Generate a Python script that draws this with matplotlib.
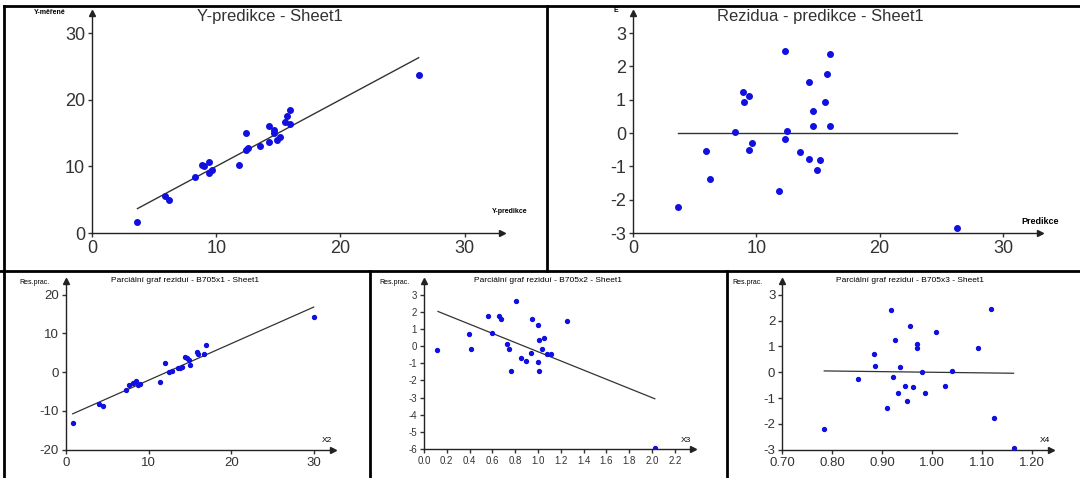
import matplotlib.pyplot as plt
from matplotlib.lines import Line2D

plt.rcParams['font.family'] = ['Liberation Sans', 'DejaVu Sans']
plt.rcParams['axes.unicode_minus'] = False

W, H = 1080, 478

# Top-left / top-right: predicted Y, measured Y, residuals
pred = [3.66, 5.91, 6.21, 8.29, 8.89, 9.0, 9.43, 9.38, 9.67, 11.84, 12.36, 12.36, 12.52,
        13.55, 14.23, 14.23, 14.63, 14.63, 14.93, 15.15, 15.56, 15.69, 15.96, 15.96, 26.29]
meas = [1.6, 5.5, 5.0, 8.4, 10.2, 10.0, 10.6, 9.0, 9.5, 10.2, 15.0, 12.4, 12.7,
        13.1, 16.0, 13.6, 15.4, 15.0, 14.0, 14.4, 16.6, 17.6, 18.4, 16.4, 23.7]
resid = [-2.21, -0.54, -1.38, 0.02, 1.22, 0.94, 1.10, -0.50, -0.30, -1.74, 2.46, -0.18, 0.06,
         -0.58, 1.54, -0.78, 0.66, 0.22, -1.10, -0.82, 0.94, 1.78, 2.38, 0.22, -2.85]

# Partial residual plots
x2 = [0.81, 4.03, 4.43, 7.25, 7.65, 8.05, 8.46, 8.74, 8.94, 11.36, 12.0, 12.49, 12.77,
      13.53, 13.78, 13.98, 14.42, 14.66, 14.9, 15.06, 15.79, 15.99, 16.67, 16.99, 29.96]
r2 = [-12.99, -8.09, -8.69, -4.65, -3.35, -2.92, -2.24, -3.44, -3.10, -2.58, 2.32, 0.0, 0.34,
      0.95, 1.03, 1.2, 3.78, 3.53, 3.1, 1.9, 5.25, 4.73, 4.56, 7.05, 14.28]
fit2 = ([0.81, 29.96], [-10.75, 16.77])

x3 = [0.117, 0.392, 0.415, 0.559, 0.60, 0.655, 0.679, 0.728, 0.749, 0.767, 0.805, 0.854, 0.895,
      0.942, 0.951, 1.0, 1.0, 1.012, 1.012, 1.053, 1.033, 1.076, 1.112, 1.252, 2.025]
r3 = [-0.21, 0.68, -0.14, 1.77, 0.74, 1.77, 1.59, 0.10, -0.19, -1.48, 2.62, -0.70, -0.89,
      -0.39, 1.56, 1.24, -0.93, -1.48, 0.33, 0.45, -0.19, -0.47, -0.45, 1.44, -5.97]
fit3 = ([0.123, 2.025], [2.02, -3.07])

x4 = [0.784, 0.851, 0.883, 0.886, 0.909, 0.917, 0.921, 0.926, 0.931, 0.935, 0.945, 0.949, 0.955,
      0.962, 0.969, 0.969, 0.98, 0.985, 1.007, 1.025, 1.039, 1.092, 1.117, 1.123, 1.163]
r4 = [-2.18, -0.26, 0.70, 0.26, -1.38, 2.39, -0.18, 1.23, -0.81, 0.22, -0.54, -1.10, 1.78,
      -0.58, 1.11, 0.95, 0.01, -0.79, 1.55, -0.54, 0.05, 0.94, 2.46, -1.78, -2.92]
fit4 = ([0.784, 1.163], [0.05, -0.04])

fig = plt.figure(figsize=(W / 100, H / 100), dpi=100)


def fx(px):
    return px / W


def fy(py):
    return 1 - py / H


def make_axes(x0, x1, y0, y1, xlim, ylim, xticks, yticks, fs, fmt=None):
    # x0/x1: pixel of xlim ends, y0/y1: pixel of ylim bottom/top
    ax = fig.add_axes([fx(x0), fy(y0), (x1 - x0) / W, (y0 - y1) / H])
    ax.set_xlim(*xlim)
    ax.set_ylim(*ylim)
    for s in ['top', 'right']:
        ax.spines[s].set_visible(False)
    for s in ['left', 'bottom']:
        ax.spines[s].set_linewidth(1.0)
        ax.spines[s].set_color('#222222')
    ax.set_xticks(xticks)
    ax.set_yticks(yticks)
    if fmt:
        ax.set_xticklabels([fmt.format(t) for t in xticks])
    ax.tick_params(labelsize=fs, length=3, width=1, colors='#333333', pad=2)
    ax.plot(1, 0, marker='>', color='#222222', ms=4, transform=ax.transAxes, clip_on=False)
    ax.plot(0, 1, marker='^', color='#222222', ms=4, transform=ax.transAxes, clip_on=False)
    return ax


blue = '#1010e0'

# Top-left
ax = make_axes(92, 502, 233, 13, (0, 33), (0, 33), [0, 10, 20, 30], [0, 10, 20, 30], 13)
ax.scatter(pred, meas, s=16, color=blue, zorder=3)
ax.plot([min(pred), max(pred)], [min(pred), max(pred)], color='#333333', lw=1)
fig.text(fx(270), fy(17), 'Y-predikce - Sheet1', ha='center', va='center', fontsize=12, color='#333333')
fig.text(fx(50), fy(13), 'Y-měřené', ha='center', va='center', fontsize=5, weight='bold')
fig.text(fx(510), fy(212), 'Y-predikce', ha='center', va='center', fontsize=5, weight='bold')

# Top-right
ax = make_axes(633, 1040, 233, 13, (0, 33), (-3, 3.6), [0, 10, 20, 30], [-3, -2, -1, 0, 1, 2, 3], 13)
ax.scatter(pred, resid, s=16, color=blue, zorder=3)
ax.plot([min(pred), max(pred)], [0, 0], color='#333333', lw=1)
fig.text(fx(820), fy(17), 'Rezidua - predikce - Sheet1', ha='center', va='center', fontsize=12, color='#333333')
fig.text(fx(616), fy(10), 'E', ha='center', va='center', fontsize=5, weight='bold')
fig.text(fx(1040), fy(222), 'Predikce', ha='center', va='center', fontsize=6.5, weight='bold')

# Bottom-left
ax = make_axes(66, 333, 449.7, 281, (0, 32.3), (-20, 23.5), [0, 10, 20, 30], [-20, -10, 0, 10, 20], 9.5)
ax.scatter(x2, r2, s=8, color=blue, zorder=3)
ax.plot(*fit2, color='#333333', lw=0.9)
fig.text(fx(185), fy(281), 'Parciální graf reziduí - B705x1 - Sheet1', ha='center', va='center', fontsize=6)
fig.text(fx(34), fy(283), 'Res.prac.', ha='center', va='center', fontsize=5)
fig.text(fx(327), fy(441), 'X2', ha='center', va='center', fontsize=6)

# Bottom-middle
ax = make_axes(424, 693, 449, 281.3, (0, 2.36), (-6, 3.78),
               [0.0, 0.2, 0.4, 0.6, 0.8, 1.0, 1.2, 1.4, 1.6, 1.8, 2.0, 2.2], list(range(-6, 4)), 7, '{:.1f}')
ax.scatter(x3, r3, s=8, color=blue, zorder=3)
ax.plot(*fit3, color='#333333', lw=0.9)
fig.text(fx(548), fy(281), 'Parciální graf reziduí - B705x2 - Sheet1', ha='center', va='center', fontsize=6)
fig.text(fx(395), fy(282), 'Res.prac.', ha='center', va='center', fontsize=5)
fig.text(fx(686), fy(441), 'X3', ha='center', va='center', fontsize=6)

# Bottom-right
ax = make_axes(782.3, 1051, 449.7, 281.3, (0.70, 1.238), (-3, 3.52),
               [0.70, 0.80, 0.90, 1.00, 1.10, 1.20], [-3, -2, -1, 0, 1, 2, 3], 9.5, '{:.2f}')
ax.scatter(x4, r4, s=8, color=blue, zorder=3)
ax.plot(*fit4, color='#333333', lw=0.9)
fig.text(fx(910), fy(281), 'Parciální graf reziduí - B705x3 - Sheet1', ha='center', va='center', fontsize=6)
fig.text(fx(748), fy(282), 'Res.prac.', ha='center', va='center', fontsize=5)
fig.text(fx(1045), fy(441), 'X4', ha='center', va='center', fontsize=6)

# Panel borders
borders = [
    ((4, 1080), (6, 6)),
    ((4, 4), (6, 478)),
    ((547, 547), (6, 271)),
    ((0, 1080), (271, 271)),
    ((370, 370), (271, 478)),
    ((727, 727), (271, 478)),
]
for (xa, xb), (ya, yb) in borders:
    fig.add_artist(Line2D([fx(xa), fx(xb)], [fy(ya), fy(yb)], color='black', lw=2))

plt.savefig('out.png', dpi=100)
